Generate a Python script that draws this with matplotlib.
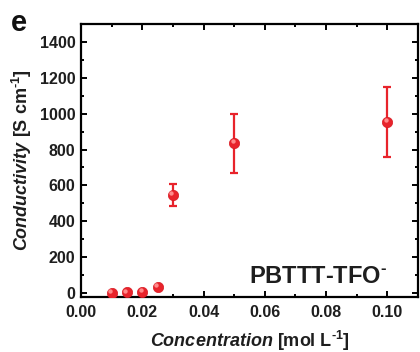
import matplotlib
matplotlib.use("Agg")
import matplotlib.pyplot as plt
import matplotlib.transforms as mtransforms
from matplotlib.ticker import MultipleLocator

plt.rcParams['font.family'] = ['Liberation Sans', 'DejaVu Sans']
plt.rcParams['mathtext.fontset'] = 'custom'
plt.rcParams['mathtext.rm'] = 'Liberation Sans:bold'
plt.rcParams['mathtext.it'] = 'Liberation Sans:bold:italic'
plt.rcParams['mathtext.bf'] = 'Liberation Sans:bold'

concentration = [0.01, 0.015, 0.02, 0.025, 0.03, 0.05, 0.10]
conductivity = [1, 4, 5, 35, 548, 836, 955]
err_low = [0, 0, 0, 0, 60, 165, 195]
err_high = [0, 0, 0, 0, 60, 165, 193]

red = '#e8232b'
dark = '#1e1e1e'

fig = plt.figure(figsize=(4.2, 3.52), dpi=100)
ax = fig.add_axes([81/420, 1-297/352, (418-81)/420, (297-24)/352])

ax.errorbar(concentration, conductivity, yerr=[err_low, err_high], fmt='none',
            ecolor=red, elinewidth=1.6, capsize=3.2, capthick=1.6, zorder=2)
ax.scatter(concentration, conductivity, s=55, color=red, edgecolor='#d81a22',
           linewidth=0.5, zorder=3)
hl = mtransforms.offset_copy(ax.transData, fig=fig, x=-1.2, y=1.2, units='points')
ax.scatter(concentration, conductivity, s=10, color='#ff8a8a', linewidth=0,
           zorder=4, transform=hl)

ax.set_xlim(0, 0.11)
ax.set_ylim(-22, 1500)
ax.xaxis.set_major_locator(MultipleLocator(0.02))
ax.xaxis.set_minor_locator(MultipleLocator(0.01))
ax.yaxis.set_major_locator(MultipleLocator(200))
ax.yaxis.set_minor_locator(MultipleLocator(100))
ax.xaxis.set_major_formatter(matplotlib.ticker.FormatStrFormatter('%.2f'))

for s in ax.spines.values():
    s.set_linewidth(1.6)
ax.tick_params(which='both', direction='in', top=True, right=True, width=1.4)
ax.tick_params(which='major', length=4.5, labelsize=11.5)
ax.tick_params(axis='x', which='major', pad=6)
ax.tick_params(axis='y', which='major', pad=4)
ax.tick_params(which='minor', length=2.5)
for lab in ax.get_xticklabels() + ax.get_yticklabels():
    lab.set_fontweight('bold')
    lab.set_color(dark)

ax.set_xlabel(r'$\mathit{Concentration}$ [mol L$^{\text{-1}}$]', fontsize=13,
              fontweight='bold', color=dark, labelpad=6)
ax.set_ylabel(r'$\mathit{Conductivity}$ [S cm$^{\text{-1}}$]', fontsize=13,
              fontweight='bold', color=dark, labelpad=4)

ax.text(0.91, 0.052, r'PBTTT-TFO$^{\text{-}}$', transform=ax.transAxes,
        ha='right', va='baseline', fontsize=17, fontweight='bold', color=dark)

fig.text(11/420, 1-31/352, 'e', fontsize=21, fontweight='bold', color='#111111',
         va='baseline', ha='left')

fig.savefig('out.png', dpi=100)
